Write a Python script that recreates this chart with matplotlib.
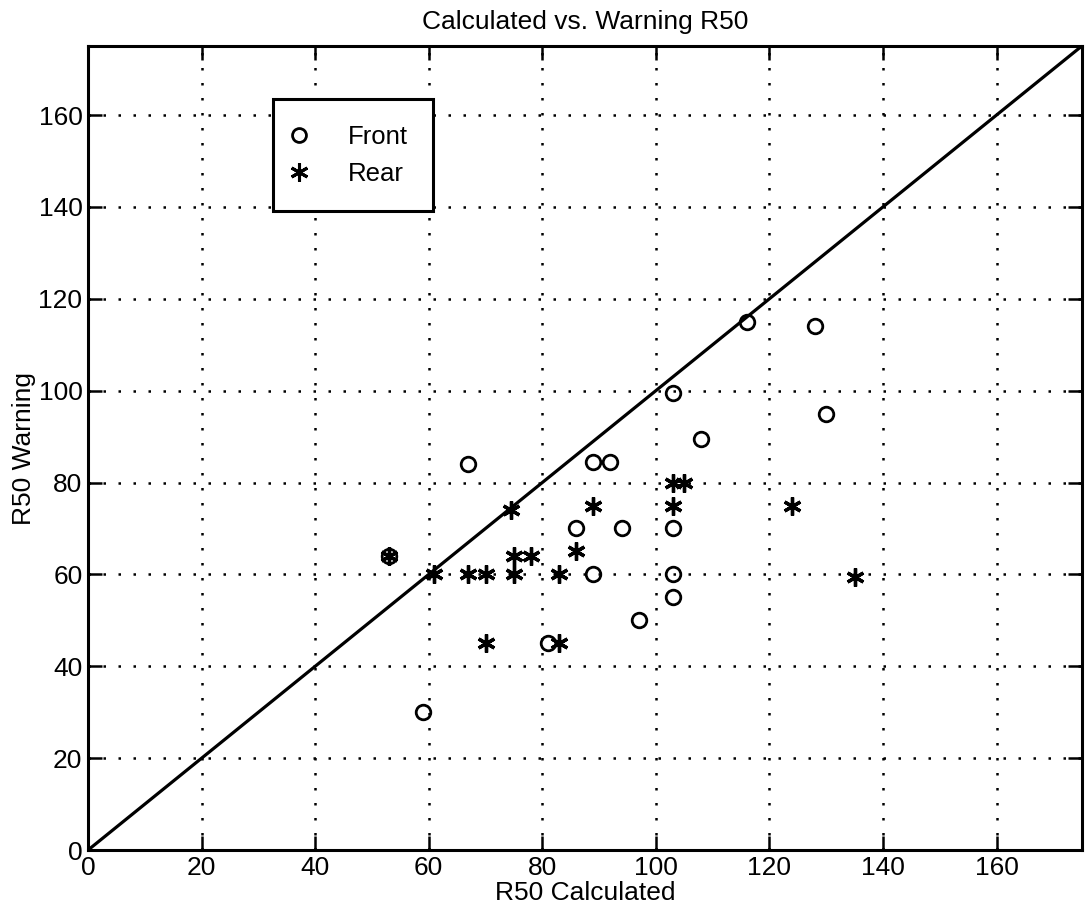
import matplotlib
matplotlib.use("Agg")
import matplotlib.pyplot as plt
import numpy as np

plt.rcParams['font.family'] = ['Liberation Sans', 'DejaVu Sans']

title = "Calculated vs. Warning R50"
xlabel = "R50 Calculated"
ylabel = "R50 Warning"
ticks = [0, 20, 40, 60, 80, 100, 120, 140, 160]
axis_max = 175

front_x = [53, 67, 89, 92, 103, 108, 116, 128, 130, 86, 94, 103, 89, 103, 103, 97, 81, 59]
front_y = [64, 84, 84.5, 84.5, 99.5, 89.5, 115, 114, 95, 70, 70, 70, 60, 60, 55, 50, 45, 30]

rear_x = [53, 74.5, 75, 78, 86, 103, 105, 89, 103, 124, 61, 67, 70, 75, 83, 135, 70, 83]
rear_y = [64, 74, 64, 64, 65, 80, 80, 75, 75, 75, 60, 60, 60, 60, 60, 59.5, 45, 45]

ref_line = [0, axis_max]

fig = plt.figure(figsize=(10.92, 9.22), dpi=100)
ax = fig.add_axes([0.0806, 0.0780, 0.910, 0.872])

ax.plot(front_x, front_y, linestyle='none', marker='o', markersize=10.5,
        markerfacecolor='none', markeredgecolor='black', markeredgewidth=2, label='Front')
ax.plot(rear_x, rear_y, linestyle='none', marker=(6, 2, 0), markersize=13,
        color='black', markeredgewidth=2.4, label='Rear')
ax.plot(ref_line, ref_line, color='black', linewidth=2.3)

ax.set_xlim(0, axis_max)
ax.set_ylim(0, axis_max)
ax.set_xticks(ticks)
ax.set_yticks(ticks)
ax.grid(True, color='black', linestyle=(0, (1, 5)), linewidth=1.8)
ax.tick_params(direction='in', length=10, width=1.8, labelsize=19,
               top=True, right=True)
ax.tick_params(axis='x', pad=4)
ax.tick_params(axis='y', pad=4)
for s in ax.spines.values():
    s.set_linewidth(2.2)

ax.set_title(title, fontsize=19, pad=12)
ax.set_xlabel(xlabel, fontsize=19, labelpad=1)
ax.set_ylabel(ylabel, fontsize=19, labelpad=2)

leg = ax.legend(loc='upper left', bbox_to_anchor=(0.186, 0.934), borderaxespad=0,
                fontsize=18.5, frameon=True, fancybox=False, edgecolor='black',
                framealpha=1, handletextpad=1.9, borderpad=1.0, labelspacing=0.5,
                handlelength=0.01, numpoints=1)
leg.get_frame().set_linewidth(2.2)
hs = leg.legend_handles
hs[0].set_markersize(10)
hs[1].set_markersize(13)
hs[1].set_markeredgewidth(2.2)

fig.savefig("out.png", dpi=100)
